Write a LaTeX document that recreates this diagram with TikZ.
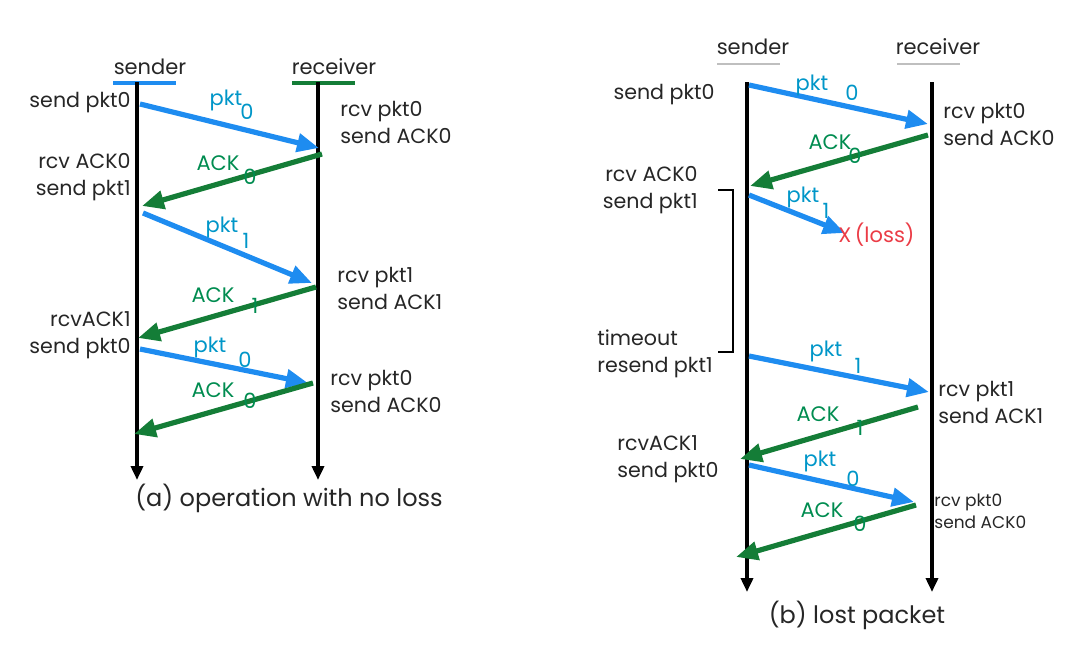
\documentclass[tikz,border=0pt]{standalone}
\usepackage{fontspec}
\setmainfont{Poppins}
\usetikzlibrary{arrows.meta}
\definecolor{pblue}{RGB}{30,140,240}
\definecolor{pgreen}{RGB}{20,125,55}
\definecolor{tblue}{RGB}{0,150,200}
\definecolor{tgreen}{RGB}{0,140,80}
\definecolor{lossred}{RGB}{235,60,70}
\tikzset{
  x=0.5pt, y=-0.5pt,
  txt/.style={font=\fontsize{10.3}{13.5}\selectfont, text=black!85, inner sep=0pt, align=left},
  rtxt/.style={txt, align=right},
  captxt/.style={font=\fontsize{12}{13}\selectfont, text=black!85, inner sep=0pt},
  head/.style={font=\fontsize{10.5}{12}\selectfont, text=black!85, inner sep=0pt},
  life/.style={line width=2pt, -{Triangle[length=7pt,width=6pt]}},
  pktarr/.style={pblue, line width=2.6pt, -{Triangle[length=11pt,width=9pt]}},
  ackarr/.style={pgreen, line width=2.6pt, -{Triangle[length=11pt,width=9pt]}},
  plab/.style={font=\fontsize{10.5}{11}\selectfont, text=tblue, inner sep=0pt},
  alab/.style={font=\fontsize{10.5}{11}\selectfont, text=tgreen, inner sep=0pt},
}
\begin{document}
\begin{tikzpicture}
\useasboundingbox (0,0) rectangle (1082,666);
% ================= (a) =================
\node[head] (sA) at (150,67) {sender};
\node[head] (rA) at (334,67) {receiver};
\draw[pblue, line width=1.6pt] (113,83) -- (176,83);
\draw[pgreen, line width=1.6pt] (292,83) -- (355,83);
\coordinate (sAtop) at (137,82);
\coordinate (sAbot) at (137,480);
\coordinate (rAtop) at (318,82);
\coordinate (rAbot) at (318,480);
\draw[life] (sAtop) -- (sAbot);
\draw[life] (rAtop) -- (rAbot);

\node[rtxt, anchor=east] (a1) at (131,103) {send pkt0};
\node[txt, anchor=west] (a2) at (340,122) {rcv pkt0\\send ACK0};
\node[rtxt, anchor=east] (a3) at (131,177) {rcv ACK0\\send pkt1};
\node[txt, anchor=west] (a4) at (337,288) {rcv pkt1\\send ACK1};
\node[rtxt, anchor=east] (a5) at (131,335) {rcvACK1\\send pkt0};
\node[txt, anchor=west] (a6) at (330,391) {rcv pkt0\\send ACK0};

\coordinate (pa1s) at (140,104); \coordinate (pa1e) at (319,148);
\coordinate (aa1s) at (322,154); \coordinate (aa1e) at (142,206);
\coordinate (pa2s) at (143,213); \coordinate (pa2e) at (312,283);
\coordinate (aa2s) at (316,287); \coordinate (aa2e) at (138,338);
\coordinate (pa3s) at (140,349); \coordinate (pa3e) at (308,383);
\coordinate (aa3s) at (313,383); \coordinate (aa3e) at (134,434);
\draw[pktarr] (pa1s) -- (pa1e);
\draw[ackarr] (aa1s) -- (aa1e);
\draw[pktarr] (pa2s) -- (pa2e);
\draw[ackarr] (aa2s) -- (aa2e);
\draw[pktarr] (pa3s) -- (pa3e);
\draw[ackarr] (aa3s) -- (aa3e);

\node[plab] (lpa1) at (226,100) {pkt}; \node[plab] (lpa1s) at (247,112) {0};
\node[alab] (laa1) at (218,163) {ACK}; \node[alab] (laa1s) at (250,177) {0};
\node[plab] (lpa2) at (222,227) {pkt}; \node[plab] (lpa2s) at (246,241) {1};
\node[alab] (laa2) at (213,295) {ACK}; \node[alab] (laa2s) at (255,306) {1};
\node[plab] (lpa3) at (210,347) {pkt}; \node[plab] (lpa3s) at (245,360) {0};
\node[alab] (laa3) at (213,390) {ACK}; \node[alab] (laa3s) at (250,401) {0};

\node[captxt] (capA) at (289,498) {(a) operation with no loss};

% ================= (b) =================
\node[head] (sB) at (753,47) {sender};
\node[head] (rB) at (938,47) {receiver};
\draw[black!25, line width=0.8pt] (717,64) -- (780,64);
\draw[black!25, line width=0.8pt] (897,64) -- (960,64);
\coordinate (sBtop) at (747,82);
\coordinate (sBbot) at (747,592);
\coordinate (rBtop) at (932,82);
\coordinate (rBbot) at (932,592);
\draw[life] (sBtop) -- (sBbot);
\draw[life] (rBtop) -- (rBbot);

\node[rtxt, anchor=east] (b1) at (715,95) {send pkt0};
\node[txt, anchor=west] (b2) at (943,124) {rcv pkt0\\send ACK0};
\node[rtxt, anchor=east] (b3) at (698,190) {rcv ACK0\\send pkt1};
\node[txt, anchor=west] (b4) at (597,354) {timeout\\resend pkt1};
\node[txt, anchor=west] (b5) at (938,402) {rcv pkt1\\send ACK1};
\node[txt, anchor=west] (b6) at (617,459) {rcvACK1\\send pkt0};
\node[txt, anchor=west, font=\fontsize{8.5}{11}\selectfont] (b7) at (934,511) {rcv pkt0\\send ACK0};

\coordinate (brA) at (718,190); \coordinate (brB) at (733,190);
\coordinate (brC) at (733,352); \coordinate (brD) at (718,352);
\draw[line width=1.2pt] (brA) -- (brB) -- (brC) -- (brD);

\coordinate (pb1s) at (749,85);  \coordinate (pb1e) at (928,124);
\coordinate (ab1s) at (928,135); \coordinate (ab1e) at (750,186);
\coordinate (pb2s) at (749,195); \coordinate (pb2e) at (845,233);
\coordinate (pb3s) at (749,356); \coordinate (pb3e) at (929,392);
\coordinate (ab3s) at (918,407); \coordinate (ab3e) at (740,459);
\coordinate (pb4s) at (749,465); \coordinate (pb4e) at (914,502);
\coordinate (ab4s) at (916,505); \coordinate (ab4e) at (736,557);
\draw[pktarr] (pb1s) -- (pb1e);
\draw[ackarr] (ab1s) -- (ab1e);
\draw[pktarr] (pb2s) -- (pb2e);
\draw[pktarr] (pb3s) -- (pb3e);
\draw[ackarr] (ab3s) -- (ab3e);
\draw[pktarr] (pb4s) -- (pb4e);
\draw[ackarr] (ab4s) -- (ab4e);

\node[plab] (lpb1) at (812,85) {pkt}; \node[plab] (lpb1s) at (852,93) {0};
\node[alab] (lab1) at (830,142) {ACK}; \node[alab] (lab1s) at (855,156) {0};
\node[plab] (lpb2) at (803,197) {pkt}; \node[plab] (lpb2s) at (826,211) {1};
\node[font=\fontsize{10.5}{11}\selectfont, text=lossred, inner sep=0pt, anchor=west] (loss) at (838,235) {X\,(loss)};
\node[plab] (lpb3) at (826,351) {pkt}; \node[plab] (lpb3s) at (858,366) {1};
\node[alab] (lab3) at (818,414) {ACK}; \node[alab] (lab3s) at (860,428) {1};
\node[plab] (lpb4) at (820,461) {pkt}; \node[plab] (lpb4s) at (853,479) {0};
\node[alab] (lab4) at (822,510) {ACK}; \node[alab] (lab4s) at (860,524) {0};

\node[captxt] (capB) at (857,615) {(b) lost packet};
\end{tikzpicture}
\end{document}
